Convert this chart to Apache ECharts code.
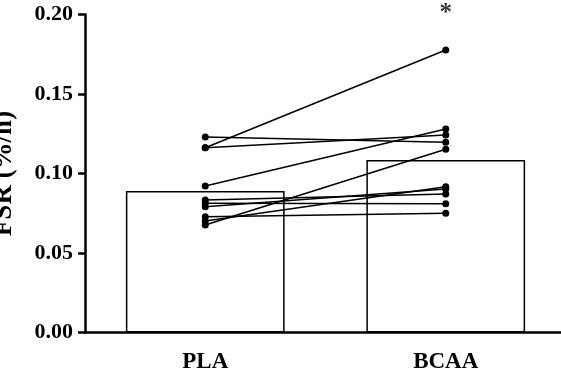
<!DOCTYPE html>
<html>
<head>
<meta charset="utf-8">
<script src="https://cdn.jsdelivr.net/npm/echarts@6/dist/echarts.min.js"></script>
<style>html,body{margin:0;padding:0;background:#fff;}#c{width:561px;height:370px;}</style>
</head>
<body>
<div id="c"></div>
<script>
var categories = ['PLA', 'BCAA'];
var barMeans = [0.089, 0.1085];
var plaValues = [0.1230, 0.1162, 0.1162, 0.0921, 0.0833, 0.0813, 0.0791, 0.0728, 0.0701, 0.0676];
var bcaaValues = [0.1196, 0.1242, 0.1777, 0.1280, 0.0871, 0.0810, 0.0903, 0.0750, 0.0917, 0.1152];
var yTicks = [0, 0.05, 0.10, 0.15, 0.20];
var sigLabel = '*';
var yName = 'FSR (%/h)';

var font = 'Liberation Serif';
var series = [{
  type: 'bar',
  data: barMeans,
  barWidth: '66%',
  itemStyle: { color: '#fff', borderColor: '#000', borderWidth: 1.5 },
  z: 1,
  silent: true
}];
for (var i = 0; i < plaValues.length; i++) {
  series.push({
    type: 'line',
    data: [plaValues[i], bcaaValues[i]],
    symbol: 'circle',
    symbolSize: 7,
    lineStyle: { color: '#000', width: 1.5 },
    itemStyle: { color: '#000' },
    z: 3,
    silent: true
  });
}
series.push({
  type: 'scatter',
  data: [[categories[1], 0.2005]],
  symbolSize: 1,
  clip: false,
  itemStyle: { color: 'rgba(0,0,0,0)' },
  label: { show: true, formatter: sigLabel, position: 'inside', fontFamily: font, fontWeight: 'bold', fontSize: 25, color: '#000' },
  z: 4,
  silent: true
});

var chart = echarts.init(document.getElementById('c'));
chart.setOption({
  animation: false,
  grid: { left: 85, right: -5, top: 14.5, bottom: 37.5, containLabel: false, outerBoundsMode: 'none' },
  xAxis: {
    type: 'category',
    data: categories,
    axisLine: { lineStyle: { color: '#000', width: 2.5 } },
    axisTick: { alignWithLabel: true, length: 8, lineStyle: { color: '#000', width: 2.5 } },
    axisLabel: { color: '#000', fontFamily: font, fontWeight: 'bold', fontSize: 23, margin: 18 },
    splitLine: { show: false }
  },
  yAxis: {
    type: 'value',
    min: yTicks[0],
    max: yTicks[yTicks.length - 1],
    interval: 0.05,
    name: yName,
    nameLocation: 'middle',
    nameGap: 67,
    nameTextStyle: { color: '#000', fontFamily: font, fontWeight: 'bold', fontSize: 27 },
    axisLine: { show: true, lineStyle: { color: '#000', width: 2.5 } },
    axisTick: { show: true, length: 7, lineStyle: { color: '#000', width: 2.5 } },
    axisLabel: { color: '#000', fontFamily: font, fontWeight: 'bold', fontSize: 22, margin: 12, formatter: function (v) { return v.toFixed(2); } },
    splitLine: { show: false }
  },
  series: series
});
</script>
</body>
</html>
